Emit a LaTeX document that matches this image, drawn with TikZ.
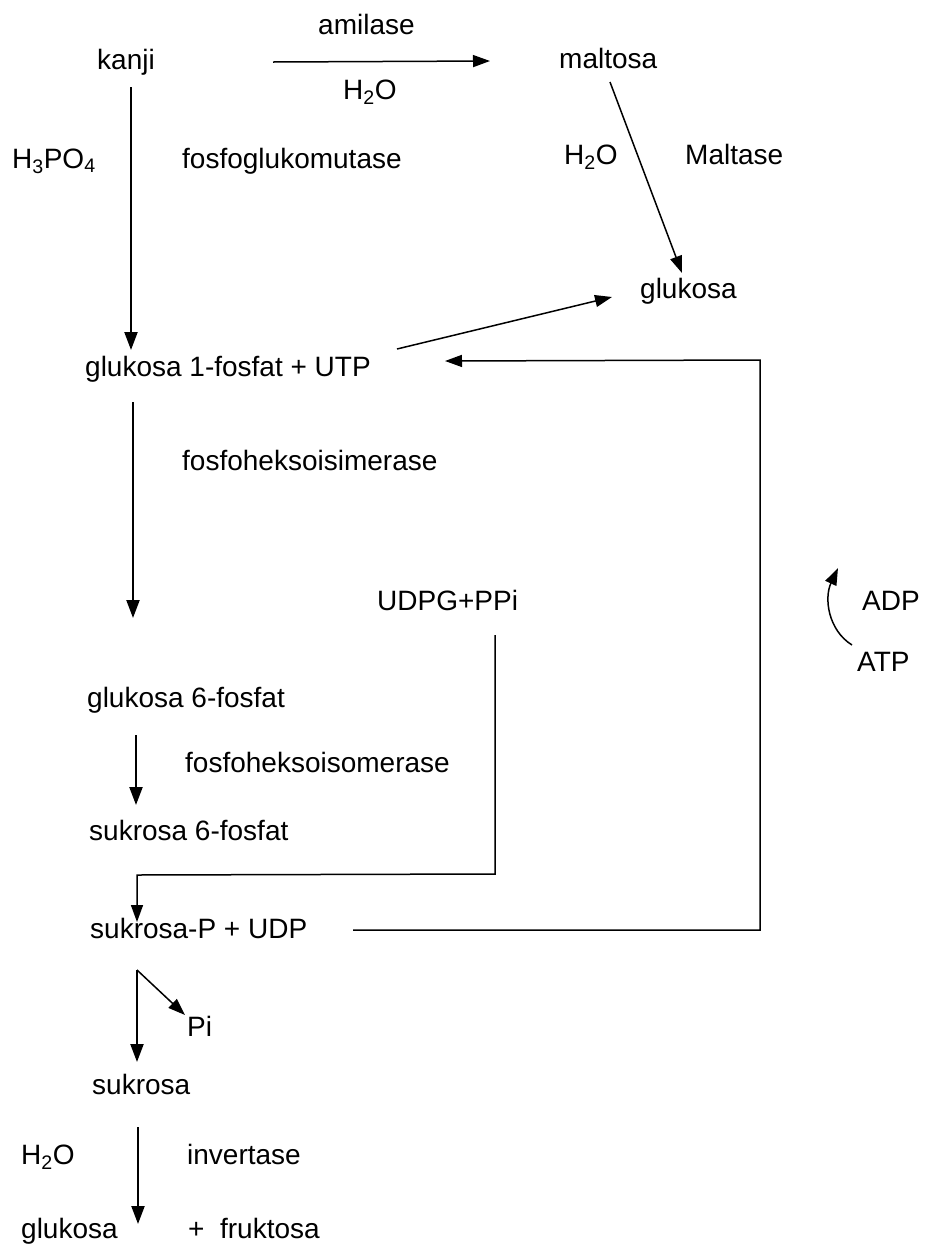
\documentclass[tikz,border=0pt]{standalone}
\usepackage{fontspec}
\setmainfont{Liberation Sans}
\usetikzlibrary{arrows.meta}
\begin{document}
\begin{tikzpicture}[x=1pt,y=-1pt,
  txt/.style={anchor=base west, inner sep=0pt, font=\fontsize{28}{32}\selectfont},
  conn/.style={line width=1.5pt},
  arr/.style={conn, -{Triangle[length=17pt,width=12pt]}},
  thickarr/.style={line width=2.2pt, -{Triangle[length=18pt,width=13pt]}}]
\useasboundingbox (0,0) rectangle (929,1251);
% texts
\node[txt] (amilase) at (318,34) {amilase};
\node[txt] (kanji) at (97,69) {kanji};
\node[txt] (maltosa) at (559,68) {maltosa};
\node[txt] (h2oa) at (343,99) {H\textsubscript{2}O};
\node[txt] (h3po4) at (12,168) {H\textsubscript{3}PO\textsubscript{4}};
\node[txt] (fgm) at (182,168) {fosfoglukomutase};
\node[txt] (h2ob) at (564,164) {H\textsubscript{2}O};
\node[txt] (maltase) at (685,164) {Maltase};
\node[txt] (glukosaR) at (640,298) {glukosa};
\node[txt] (g1p) at (85,376) {glukosa 1-fosfat + UTP};
\node[txt] (fhi) at (182,470) {fosfoheksoisimerase};
\node[txt] (udpg) at (377,610) {UDPG+PPi};
\node[txt] (adp) at (862,610) {ADP};
\node[txt] (atp) at (857,671) {ATP};
\node[txt] (g6p) at (87,707) {glukosa 6-fosfat};
\node[txt] (fho) at (185,772) {fosfoheksoisomerase};
\node[txt] (s6p) at (89,840) {sukrosa 6-fosfat};
\node[txt] (sp) at (90,938) {sukrosa-P + UDP};
\node[txt] (pi) at (187,1036) {Pi};
\node[txt] (sukrosa) at (92,1094) {sukrosa};
\node[txt] (h2oc) at (21,1164) {H\textsubscript{2}O};
\node[txt] (invertase) at (187,1164) {invertase};
\node[txt] (glukosaB) at (21,1238) {glukosa};
\node[txt] (fruktosa) at (188,1238) {+ \ fruktosa};
% connector end points
\coordinate (a1) at (273,62);  \coordinate (a2) at (490,61);
\coordinate (k1) at (131,87);  \coordinate (k2) at (131,350);
\coordinate (m1) at (610,82);  \coordinate (m2) at (682,273);
\coordinate (g1) at (397,349); \coordinate (g2) at (612,297);
\coordinate (r1) at (353,930); \coordinate (r2) at (760,930);
\coordinate (r3) at (760,360); \coordinate (r4) at (445,361);
\coordinate (d1) at (133,402); \coordinate (d2) at (133,618);
\coordinate (u1) at (495,635); \coordinate (u2) at (495,874);
\coordinate (u3) at (137,875); \coordinate (u4) at (137,922);
\coordinate (e1) at (136,735); \coordinate (e2) at (136,805);
\coordinate (p0) at (137,970); \coordinate (p1) at (185,1015);
\coordinate (p2) at (137,1062);
\coordinate (s1) at (138,1127); \coordinate (s2) at (138,1224);
\coordinate (t1) at (852,645); \coordinate (t2) at (838,568);
% connectors
\draw[arr] (a1) -- (a2);
\draw[thickarr] (k1) -- (k2);
\draw[arr] (m1) -- (m2);
\draw[arr] (g1) -- (g2);
\draw[arr] (r1) -- (r2) -- (r3) -- (r4);
\draw[thickarr] (d1) -- (d2);
\draw[arr] (u1) -- (u2) -- (u3) -- (u4);
\draw[thickarr] (e1) -- (e2);
\draw[arr] (p0) -- (p1);
\draw[thickarr] (p0) -- (p2);
\draw[thickarr] (s1) -- (s2);
\draw[arr] (t1) .. controls (828,630) and (824,598) .. (t2);
\end{tikzpicture}
\end{document}
